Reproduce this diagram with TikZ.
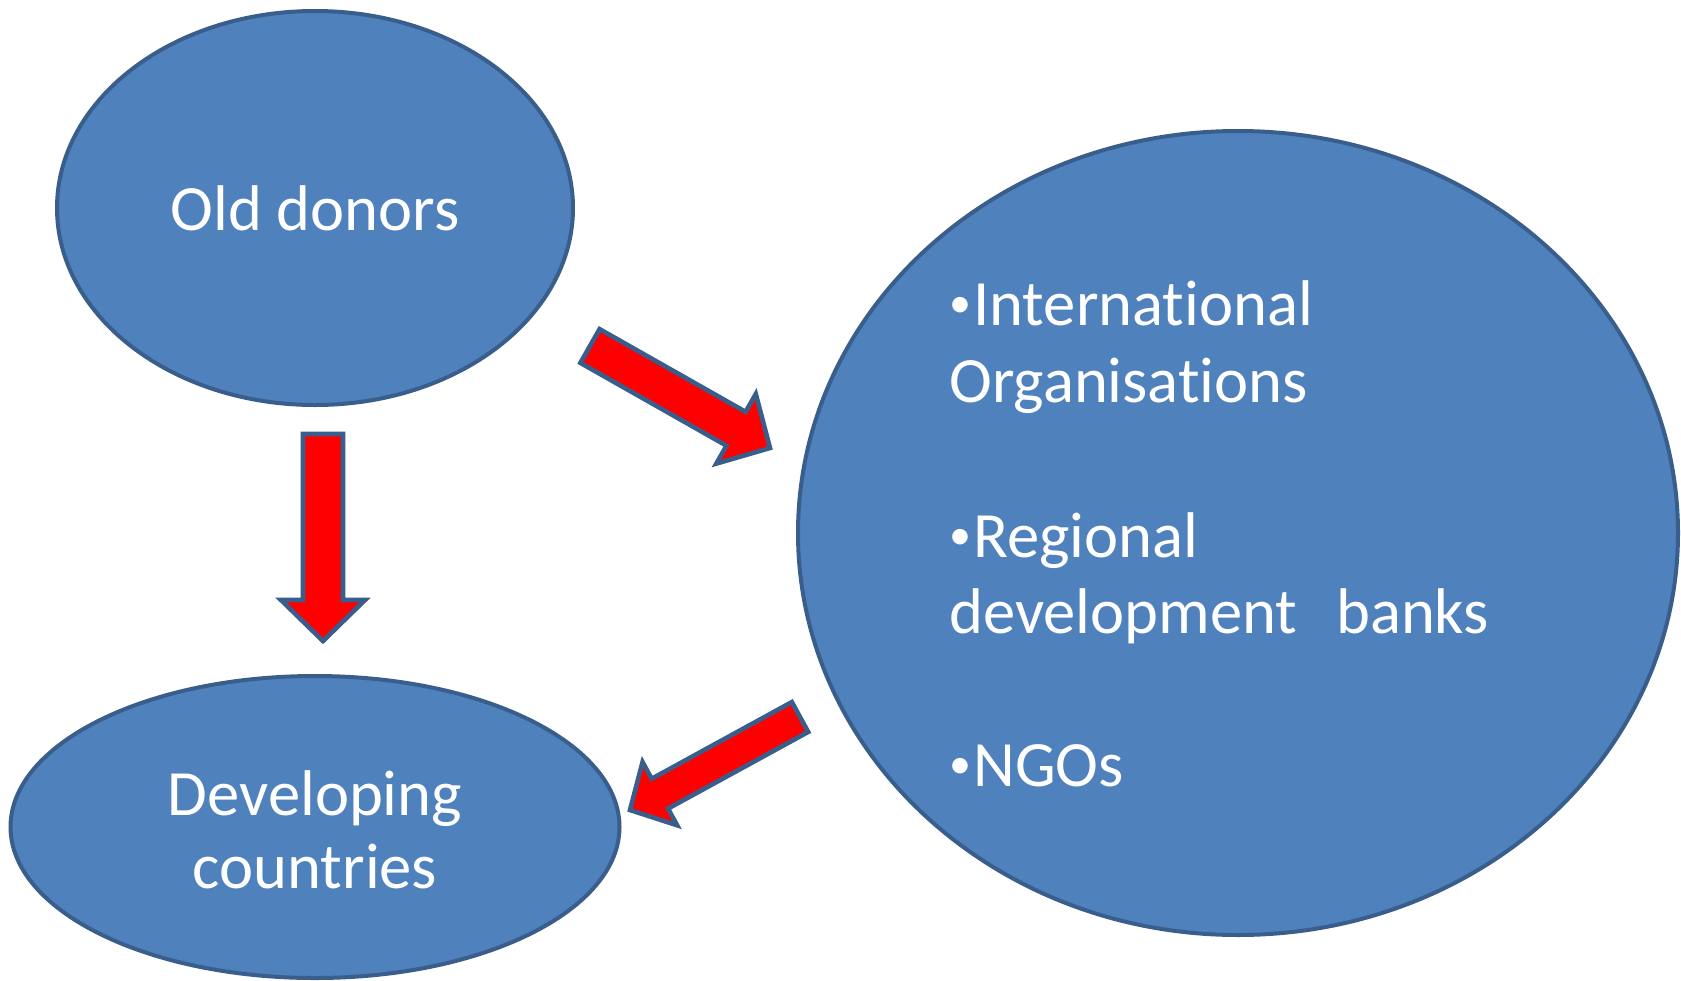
\documentclass[tikz,border=0pt]{standalone}
\usepackage{fontspec}
\setmainfont{Carlito}[Ligatures={NoCommon}]
\usetikzlibrary{calc,shapes.geometric}
\definecolor{ellfill}{HTML}{4F81BD}
\definecolor{elldraw}{HTML}{3A5E8C}
\definecolor{arrred}{HTML}{FF0000}
\tikzset{
  ell/.style={ellipse, draw=elldraw, fill=ellfill, line width=2pt, inner sep=0pt},
  lbl/.style={text=white, font=\fontsize{32.3}{40}\selectfont, inner sep=0pt},
  blockarrow/.style={draw=elldraw, fill=arrred, line width=2.3pt, line join=miter},
}
\newcommand\mybul{\raisebox{4pt}{\fontsize{22}{22}\selectfont •}\hspace{1pt}}
% #1 tail, #2 tip, #3 half shaft, #4 half head, #5 head length (pt)
\newcommand\myblockarr[5]{%
  \path (#1) coordinate (T) (#2) coordinate (P);
  \path ($(P)!#5!(T)$) coordinate (B);
  \draw[blockarrow] ($(T)!#3!90:(P)$) -- ($(B)!#3!-90:(T)$) -- ($(B)!#4!-90:(T)$) -- (P)
     -- ($(B)!#4!90:(T)$) -- ($(B)!#3!90:(T)$) -- ($(T)!#3!-90:(P)$) -- cycle;
}
\begin{document}
\begin{tikzpicture}[x=0.5pt,y=-0.5pt]
\useasboundingbox (0,0) rectangle (1681,980);
\node[ell, minimum width=516*0.5pt, minimum height=394*0.5pt] (old) at (315,208) {};
\node[ell, minimum width=609*0.5pt, minimum height=302*0.5pt] (dev) at (315,827) {};
\node[ell, minimum width=880*0.5pt, minimum height=804*0.5pt] (intl) at (1238,533) {};
\node[lbl, anchor=base] (toldT) at (315,230) {Old donors};
\node[lbl, anchor=base] (tdev1) at (315,815) {Developing};
\node[lbl, anchor=base] (tdev2) at (315,888) {countries};
\node[lbl, anchor=base west] (ti1) at (949,325) {\mybul International};
\node[lbl, anchor=base west] (ti2) at (949,402) {Organisations};
\node[lbl, anchor=base west] (ti3) at (949,557) {\mybul Regional};
\node[lbl, anchor=base west] (ti4) at (949,633) {development\hspace{0.6em}banks};
\node[lbl, anchor=base west] (ti5) at (949,786) {\mybul NGOs};
\coordinate (a1t) at (323,434);
\coordinate (a1p) at (323,641);
\coordinate (a2t) at (590,346);
\coordinate (a2p) at (770,448);
\coordinate (a3t) at (800,717);
\coordinate (a3p) at (630,810);
\myblockarr{a1t}{a1p}{10pt}{21pt}{20.5pt}
\myblockarr{a2t}{a2p}{9.7pt}{20pt}{19.5pt}
\myblockarr{a3t}{a3p}{8.5pt}{18pt}{17pt}
\end{tikzpicture}
\end{document}
